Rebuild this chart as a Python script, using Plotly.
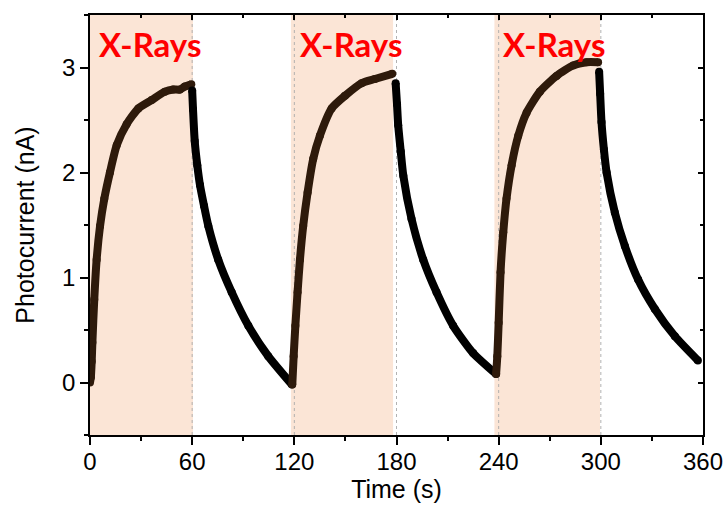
import plotly.graph_objects as go

# ---- data ----
rise1_t = [0, 0.5, 1.0, 1.4, 2.5, 3.9, 5.9, 8.4, 11.7, 15.7, 21.5, 28.4, 36.2, 44, 48.9, 52.8, 55.8, 59.5]
rise1_y = [0.0, 0.05, 0.2, 0.38, 0.79, 1.17, 1.49, 1.75, 2.0, 2.26, 2.46, 2.61, 2.69, 2.77, 2.79, 2.79, 2.82, 2.84]

decay1_t = [60, 60.5, 61.5, 63, 64.6, 67, 69.5, 75.3, 83.2, 93, 104.7, 118.6]
decay1_y = [2.78, 2.6, 2.3, 2.07, 1.88, 1.68, 1.49, 1.17, 0.86, 0.54, 0.25, -0.02]

rise2_t = [118.8, 119.6, 120.6, 121.9, 123.3, 125.2, 127.8, 131.1, 135, 141.9, 149.7, 159.5, 167.3, 177.5]
rise2_y = [-0.02, 0.25, 0.54, 0.86, 1.17, 1.49, 1.81, 2.13, 2.35, 2.61, 2.73, 2.85, 2.89, 2.94]

decay2_t = [179.5, 180.3, 181, 182.5, 184, 188.8, 195.7, 203.5, 213.3, 225, 238.5]
decay2_y = [2.85, 2.65, 2.45, 2.2, 1.97, 1.56, 1.17, 0.86, 0.54, 0.28, 0.08]

rise3_t = [238.5, 239.2, 240, 241.1, 242.7, 244.6, 247.6, 251.5, 256.4, 264.2, 274, 283.8, 291.6, 298.4]
rise3_y = [0.08, 0.25, 0.57, 1.05, 1.43, 1.75, 2.07, 2.35, 2.57, 2.77, 2.92, 3.02, 3.05, 3.05]

decay3_t = [299, 299.6, 300.4, 301.8, 303.4, 308.2, 314.1, 321.9, 331.7, 343.5, 357]
decay3_y = [2.96, 2.75, 2.48, 2.22, 2.0, 1.62, 1.30, 0.98, 0.70, 0.44, 0.21]

xray_on = [0, 118, 237.5]
xray_off = [60.5, 178, 299.5]
xray_label = "X-Rays"
switch_times = [60, 120, 180, 240, 300]

x_ticks = [0, 60, 120, 180, 240, 300, 360]
y_ticks = [0, 1, 2, 3]

RISE = "#2E1A0B"
DECAY = "#000000"
FONT = "Liberation Sans, Arial, sans-serif"

fig = go.Figure()

segments = [
    (rise1_t, rise1_y, RISE), (decay1_t, decay1_y, DECAY),
    (rise2_t, rise2_y, RISE), (decay2_t, decay2_y, DECAY),
    (rise3_t, rise3_y, RISE), (decay3_t, decay3_y, DECAY),
]
for t, y, c in segments:
    fig.add_trace(go.Scatter(
        x=t, y=y, mode="lines+markers",
        line=dict(color=c, width=8, shape="spline", smoothing=0.6),
        marker=dict(color=c, size=8),
        showlegend=False, hoverinfo="x+y",
    ))

# dummy trace for mirrored (inside-tick) axes
fig.add_trace(go.Scatter(x=[None], y=[None], xaxis="x2", yaxis="y2", showlegend=False))

shapes = []
for a, b in zip(xray_on, xray_off):
    shapes.append(dict(type="rect", xref="x", yref="y", x0=a, x1=b, y0=-0.5, y1=3.5,
                       fillcolor="#FBE5D6", line=dict(width=0), layer="below"))
for s in switch_times:
    shapes.append(dict(type="line", xref="x", yref="y", x0=s, x1=s, y0=-0.5, y1=3.5,
                       line=dict(color="rgba(170,170,170,0.9)", width=1, dash="dot"), layer="below"))

annotations = []
for a in xray_on:
    annotations.append(dict(x=a + 4, y=3.22, xref="x", yref="y", text="<b>" + xray_label + "</b>",
                            showarrow=False, xanchor="left", yanchor="middle",
                            font=dict(family="Lato, Open Sans, sans-serif", size=33, color="#FF0000")))

axis_common = dict(showline=True, linecolor="black", linewidth=1.5, showgrid=False, zeroline=False,
                   automargin=False)

fig.update_layout(
    width=728, height=507,
    margin=dict(l=90, r=25, t=15, b=72),
    plot_bgcolor="white", paper_bgcolor="white",
    shapes=shapes, annotations=annotations,
    xaxis=dict(range=[0, 360], tickvals=x_ticks, ticktext=[str(v) for v in x_ticks],
               ticks="outside", ticklen=8, tickwidth=1.5, tickcolor="black",
               minor=dict(dtick=30, ticks="outside", ticklen=4, tickwidth=1.5, tickcolor="black"),
               tickfont=dict(family=FONT, size=24, color="black"), ticklabelstandoff=-4,
               title=dict(text="Time (s)", font=dict(family=FONT, size=25, color="black"), standoff=4),
               **axis_common),
    yaxis=dict(range=[-0.5, 3.5], tickvals=y_ticks, ticktext=[str(v) for v in y_ticks],
               ticks="outside", ticklen=8, tickwidth=1.5, tickcolor="black",
               minor=dict(dtick=0.5, ticks="outside", ticklen=4, tickwidth=1.5, tickcolor="black"),
               tickfont=dict(family=FONT, size=24, color="black"),
               title=dict(text="Photocurrent (nA)", font=dict(family=FONT, size=25, color="black"), standoff=20),
               **axis_common),
    xaxis2=dict(range=[0, 360], overlaying="x", side="top", tickvals=x_ticks, showticklabels=False,
                ticks="inside", ticklen=5, tickwidth=1.5, tickcolor="black",
                minor=dict(dtick=30, ticks="inside", ticklen=3, tickwidth=1.5, tickcolor="black"),
                **axis_common),
    yaxis2=dict(range=[-0.5, 3.5], overlaying="y", side="right", tickvals=y_ticks, showticklabels=False,
                ticks="inside", ticklen=5, tickwidth=1.5, tickcolor="black",
                minor=dict(dtick=0.5, ticks="inside", ticklen=3, tickwidth=1.5, tickcolor="black"),
                **axis_common),
)

fig.write_html("out.html", config={"displayModeBar": False},
               post_script="document.body.style.margin='0';document.body.style.overflow='hidden';")
